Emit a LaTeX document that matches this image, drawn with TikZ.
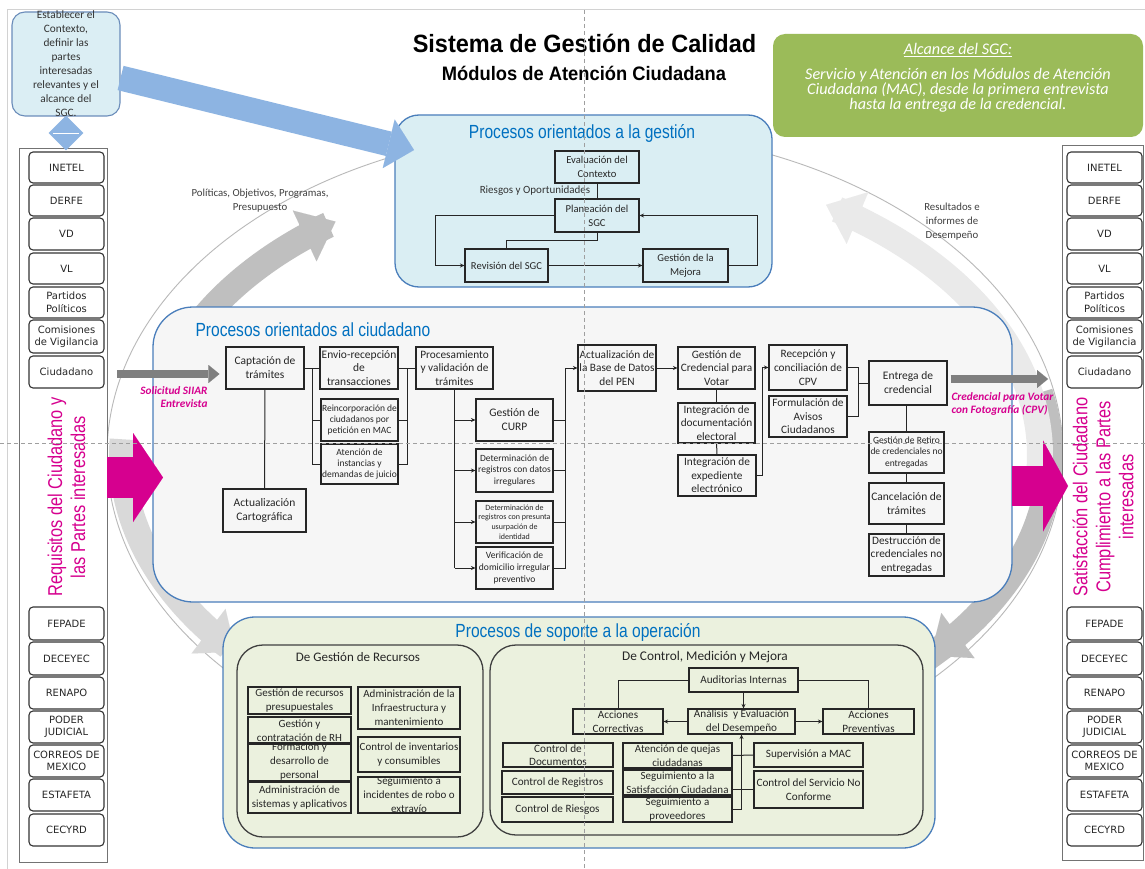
\documentclass[tikz,border=0pt]{standalone}
\usepackage{fontspec}
\setmainfont{Carlito}
\newfontfamily\verd{DejaVu Sans}
\newfontfamily\titfont{Liberation Sans}[FakeStretch=0.94]
\newfontfamily\narrowf{Liberation Sans}[FakeStretch=0.82]
\usetikzlibrary{arrows.meta,shapes.geometric,calc}
\definecolor{ctxfill}{HTML}{DBEEF4}
\definecolor{ctxdraw}{HTML}{6B8DBA}
\definecolor{gestfill}{HTML}{DAEEF3}
\definecolor{regdraw}{HTML}{4A7EBB}
\definecolor{ciudfill}{HTML}{F6F6F6}
\definecolor{sopfill}{HTML}{EBF1DE}
\definecolor{headblue}{HTML}{0070C0}
\definecolor{mag}{HTML}{D6008F}
\definecolor{grn}{HTML}{9BBB59}
\definecolor{blarr}{HTML}{8DB4E2}
\definecolor{garr}{HTML}{7F7F7F}
\definecolor{cA}{HTML}{BFBFBF}
\definecolor{cB}{HTML}{D9D9D9}
\definecolor{cC}{HTML}{EAEAEA}
\newcommand\fs[2]{\fontsize{#1}{#2}\selectfont}
\newcommand\bxn[7][]{\node[bx,minimum width={(#5-#3)*1pt},minimum height={(#6-#4)*1pt},#1] (#2) at ({(#3+#5)/2},{(#4+#6)/2}) {#7};}
\begin{document}
\begin{tikzpicture}[x=1pt,y=-1pt,
  bx/.style={draw=black!85,line width=1.1pt,inner sep=0pt,align=center,font=\fs{11.5}{14},text=black!85},
  ln/.style={draw=black!85,line width=1pt},
  arr/.style={-{Stealth[length=4.5pt,width=4pt]}},
  colbox/.style={draw=black!80,line width=1.1pt,rounded corners=4pt,fill=white,minimum width=75pt,inner sep=0pt,align=center,font=\verd\fs{10}{12.5},text=black!85},
  head/.style={font=\narrowf\fs{19}{22},text=headblue},
  curv/.style={line width=26pt},
  magarr/.style={draw=mag,line width=41pt,-{Triangle[length=30pt,width=89pt,line width=0.01pt]}},
  grarr/.style={draw=garr,line width=8.5pt,-{Triangle[length=11pt,width=18pt,line width=0.01pt]}},
  small/.style={font=\fs{10.8}{14},text=black!75,align=center}]
\useasboundingbox (0,0) rectangle (1145,869);
\fill[white] (0,0) rectangle (1145,869);
% frame
\draw[gray!35,line width=1pt] (7,869) -- (7,10) -- (1145,10);
% big thin ellipse
\draw[gray!55,line width=0.9pt] (585,455) ellipse [x radius=478, y radius=326];
% curved gray arrows
\draw[curv,draw=cA,-{Triangle[length=34pt,width=56pt,line width=0.01pt]}] plot[smooth,domain=198:235,samples=25] ({585+435*cos(\x)},{455+285*sin(\x)});
\draw[curv,draw=cB,-{Triangle[length=34pt,width=56pt,line width=0.01pt]}] plot[smooth,domain=183:139,samples=25] ({585+463*cos(\x)},{455+300*sin(\x)});
\draw[curv,draw=cA,-{Triangle[length=34pt,width=56pt,line width=0.01pt]}] plot[smooth,domain=-12:42,samples=25] ({585+465*cos(\x)},{455+300*sin(\x)});
\draw[curv,draw=cC,-{Triangle[length=34pt,width=56pt,line width=0.01pt]}] plot[smooth,domain=8:-58,samples=25] ({585+455*cos(\x)},{455+295*sin(\x)});
% columns
\bxn[draw=black!55,line width=0.8pt,fill=white]{colL}{19}{148}{107}{862}{}
\bxn[draw=black!55,line width=0.8pt,fill=white]{colR}{1062}{145}{1143}{860}{}
\foreach \lab/\ya/\yb [count=\i] in {INETEL/152/183, DERFE/185/216, VD/218/250, VL/253/284, Partidos\\Políticos/287/318, Comisiones\\de Vigilancia/320/353, Ciudadano/356/388, FEPADE/607/640, DECEYEC/642/675, RENAPO/677/709, PODER\\JUDICIAL/711/743, CORREOS DE\\MEXICO/745/777, ESTAFETA/779/811, CECYRD/814/846}{
  \node[colbox,minimum height={(\yb-\ya)*1pt}] (L\i) at (66.5,{(\ya+\yb)/2}) {\lab};
  \node[colbox,minimum height={(\yb-\ya)*1pt}] (R\i) at (1104.5,{(\ya+\yb)/2}) {\lab};
}
\node[font=\narrowf\fs{20}{23},text=mag,align=center,rotate=90] (reqT) at (66.5,497) {Requisitos del Ciudadano y\\las Partes interesadas};
\node[font=\narrowf\fs{20}{23},text=mag,align=center,rotate=90] (satT) at (1103,497) {Satisfacción del Ciudadano\\Cumplimiento a las Partes\\interesadas};
% regions
\bxn[draw=regdraw,fill=gestfill,rounded corners=24pt,line width=1.3pt]{gest}{395}{115}{772}{287}{}
\bxn[draw=regdraw,fill=ciudfill,rounded corners=40pt,line width=1.3pt]{ciud}{153}{307}{1012}{602}{}
\bxn[draw=regdraw,fill=sopfill,rounded corners=32pt,line width=1.3pt]{sop}{223}{617}{935}{848}{}
\bxn[draw=black!75,fill=sopfill,rounded corners=26pt,line width=1.3pt]{recur}{237}{645}{483}{837}{}
\bxn[draw=black!75,fill=sopfill,rounded corners=26pt,line width=1.3pt]{ctrl}{490}{645}{923}{835}{}
\bxn[draw=none,fill=grn,rounded corners=12pt]{alc}{773}{34}{1143}{137}{}
\bxn[draw=ctxdraw,fill=ctxfill,rounded corners=13pt,line width=1.1pt]{ctx}{12}{12}{120}{116}{}
\node[font=\fs{11.3}{14},text=black!80,align=center] (ctxT) at (ctx.center) {Establecer el\\Contexto,\\definir las\\partes\\interesadas\\relevantes y el\\alcance del\\SGC.};
\node[diamond,aspect=1,fill=blarr,minimum size=35pt,inner sep=0pt] (dia) at (66,133) {};
\draw[white,line width=0.8pt] ($(dia.west)+(5,0)$) -- ($(dia.east)+(-5,0)$);
% titles
\node[font=\titfont\bfseries\fs{25}{28}] (tit1) at (584.5,43) {Sistema de Gestión de Calidad};
\node[font=\titfont\bfseries\fs{19.5}{22}] (tit2) at (584,73) {Módulos de Atención Ciudadana};
\node[text=white,font=\itshape\fs{16.2}{15.5}] (alcT) at (958,50) {\underline{Alcance del SGC:}};
\node[text=white,font=\itshape\fs{16.2}{15.2},align=center] (alcB) at (958,90) {Servicio y Atención en los Módulos de Atención\\Ciudadana (MAC), desde la primera entrevista\\hasta la entrega de la credencial.};
\node[head] (gestT) at (582,133) {Procesos orientados a la gestión};
\node[head,anchor=west] (ciudT) at (192,330) {Procesos orientados al ciudadano};
\node[head] (sopT) at (578,632) {Procesos de soporte a la operación};
\node[small] (polT) at (260,201) {Políticas, Objetivos, Programas,\\Presupuesto};
\node[small] (resT) at (952,222) {Resultados e\\informes de\\Desempeño};
% gestion
\bxn[font=\fs{10.6}{14}]{eval}{555}{151}{639}{183}{Evaluación del\\Contexto}
\bxn[font=\fs{10.6}{14}]{plan}{555}{199}{639}{232}{Planeación del\\SGC}
\bxn[font=\fs{10.6}{14}]{rev}{465}{249}{548}{282}{Revisión del SGC}
\bxn[font=\fs{10.6}{14}]{mej}{643}{249}{728}{282}{Gestión de la\\Mejora}
\node[font=\fs{11}{13},text=black!80] (riesT) at (535,191) {Riesgos y Oportunidades};
\draw[ln] (eval) -- (plan);
\draw[ln,arr] (plan.west) -- ++(-119,0) |- (rev.west);
\draw[ln] (plan.south) -- ++(0,8) -| (rev.north);
\draw[ln,arr] (rev) -- (mej);
\draw[ln,arr] (mej.east) -- ++(29,0) |- (plan.east);
% ciudadano
\bxn{capt}{226}{347}{304}{389}{Captación de\\trámites}
\bxn{cart}{223}{489}{306}{532}{Actualización\\Cartográfica}
\bxn[font=\fs{11.5}{13.8}]{env}{320}{347}{398}{389}{Envio-recepción\\de\\transacciones}
\bxn[font=\fs{9.5}{11.3}]{reinc}{321}{399}{398}{441}{Reincorporación de\\ciudadanos por\\petición en MAC}
\bxn[font=\fs{9.5}{11.3}]{aten}{321}{444}{398}{484}{Atención de\\instancias y\\demandas de juicio}
\bxn[font=\fs{11.3}{13.8}]{proc}{416}{347}{493}{389}{Procesamiento\\y validación de\\trámites}
\bxn{curp}{476}{399}{553}{441}{Gestión de\\CURP}
\bxn[font=\fs{9.5}{11.5}]{dreg}{476}{449}{553}{492}{Determinación de\\registros con datos\\irregulares}
\bxn[font=\fs{8}{9.6}]{dusu}{476}{501}{553}{543}{Determinación de\\registros con presunta\\usurpación de\\identidad}
\bxn[font=\fs{9.6}{12}]{verif}{476}{547}{553}{589}{Verificación de\\domicilio irregular\\preventivo}
\bxn[font=\fs{11.3}{13.8}]{bd}{578}{345}{656}{391}{Actualización de\\la Base de Datos\\del PEN}
\bxn[font=\fs{11.3}{13.8}]{gcred}{678}{347}{755}{389}{Gestión de\\Credencial para\\Votar}
\bxn[font=\fs{11.3}{13.5}]{idoc}{678}{403}{755}{443}{Integración de\\documentación\\electoral}
\bxn[font=\fs{11.3}{13.5}]{iexp}{678}{455}{756}{496}{Integración de\\expediente\\electrónico}
\bxn[font=\fs{11.3}{13.8}]{recep}{769}{345}{847}{390}{Recepción y\\conciliación de\\CPV}
\bxn[font=\fs{11.3}{13.5}]{formu}{769}{396}{847}{437}{Formulación de\\Avisos\\Ciudadanos}
\bxn{entr}{869}{361}{947}{405}{Entrega de\\credencial}
\bxn[font=\fs{9.5}{11.5}]{gret}{869}{432}{944}{473}{Gestión de Retiro\\de credenciales no\\entregadas}
\bxn{canc}{869}{483}{944}{524}{Cancelación de\\trámites}
\bxn[font=\fs{11.3}{13.8}]{destr}{869}{534}{944}{576}{Destrucción de\\credenciales no\\entregadas}
\draw[ln] (capt) -- (cart);
\draw[ln] (capt.east) -- (env.west);
\coordinate (b1) at ($(capt.east)!0.5!(env.west)$);
\draw[ln] (b1) |- (reinc.west);
\draw[ln] (b1) |- (aten.west);
\draw[ln] (env.east) -- (proc.west);
\coordinate (b2) at ($(env.east)!0.5!(proc.west)$);
\draw[ln] (reinc.east) -| (b2);
\draw[ln] (aten.east) -| (b2);
\draw[ln] (proc.south) -- (proc.south |- verif.west);
\foreach \n in {curp,dreg,dusu,verif} \draw[ln,arr] (proc.south |- \n.west) -- (\n.west);
\coordinate (b3) at ($(curp.east)!0.5!(curp.east -| bd.west)$);
\foreach \n in {curp,dreg,dusu,verif} \draw[ln] (\n.east) -| (b3);
\draw[ln,arr] (b3) |- (bd.west);
\draw[ln,arr] (bd.east) -- (gcred.west);
\draw[ln] (gcred) -- (idoc);
\draw[ln] (idoc) -- (iexp);
\draw[ln,arr] (iexp.east) -- ++(6,0) |- (recep.west);
\draw[ln] (recep.east) -- ++(11,0) |- (formu.east);
\path (recep.east) ++(11,0) coordinate (b5);
\draw[ln] (b5 |- entr.west) -- (entr.west);
\draw[ln] (gret.north) -- (gret.north |- entr.south);
\draw[ln] (gret) -- (canc);
\draw[ln] (canc) -- (destr);
% soporte
\node[font=\fs{13}{15},text=black!85] (recurT) at (358,657) {De Gestión de Recursos};
\node[font=\fs{13.3}{15},text=black!85] (ctrlT) at (705,657) {De Control, Medición y Mejora};
\bxn[font=\fs{11}{13.8}]{presu}{248}{687}{351}{714}{Gestión de recursos\\presupuestales}
\bxn[font=\fs{11}{13.8}]{rh}{248}{717}{351}{744}{Gestión y\\contratación de RH}
\bxn[font=\fs{11}{14}]{form}{248}{747}{351}{776}{Formación y\\desarrollo de\\personal}
\bxn[font=\fs{11}{13.8}]{sist}{248}{782}{351}{813}{Administración de\\sistemas y aplicativos}
\bxn[font=\fs{11}{13.8}]{infra}{358}{687}{460}{729}{Administración de la\\Infraestructura y\\mantenimiento}
\bxn[font=\fs{11}{13.8}]{inv}{358}{737}{460}{772}{Control de inventarios\\y consumibles}
\bxn[font=\fs{11}{13.8}]{robo}{358}{777}{460}{813}{Seguimiento a\\incidentes de robo o\\extravío}
\bxn[font=\fs{11.2}{13.5}]{aud}{689}{668}{798}{692}{Auditorias Internas}
\bxn[font=\fs{11.2}{13.5}]{acor}{573}{709}{663}{734}{Acciones\\Correctivas}
\bxn[font=\fs{11.2}{13.5}]{anal}{688}{709}{795}{734}{Análisis \ y Evaluación\\del Desempeño}
\bxn[font=\fs{11.2}{13.5}]{aprev}{823}{709}{914}{734}{Acciones\\Preventivas}
\bxn[font=\fs{11.2}{13.5}]{cdoc}{503}{743}{613}{767}{Control de\\Documentos}
\bxn[font=\fs{11.2}{13.5}]{creg}{502}{771}{613}{794}{Control de Registros}
\bxn[font=\fs{11.2}{13.5}]{crie}{502}{797}{613}{822}{Control de Riesgos}
\bxn[font=\fs{11}{13.5}]{aq}{623}{743}{732}{768}{Atención de quejas\\ciudadanas}
\bxn[font=\fs{11}{13.5}]{sat}{623}{770}{732}{795}{Seguimiento a la\\Satisfacción Ciudadana}
\bxn[font=\fs{11}{13.5}]{prov}{623}{797}{732}{822}{Seguimiento a\\proveedores}
\bxn[font=\fs{11.2}{13.5}]{sup}{754}{743}{863}{767}{Supervisión a MAC}
\bxn[font=\fs{11.2}{13.5}]{csnc}{754}{771}{863}{808}{Control del Servicio No\\Conforme}
\draw[ln] (aud.west) -| (acor.north);
\draw[ln] (aud.east) -| (aprev.north);
\draw[ln,arr] (aud.south) -- (aud.south |- anal.north);
\draw[ln,arr] (anal.west) -- (acor.east);
\draw[ln,arr] (anal.east) -- (aprev.west);
\draw[ln,arr] (prov.east -| anal.south) -- (anal.south);
\draw[ln] (aq.east) -- (sup.west);
\draw[ln] (csnc.west) -- (csnc.west -| sat.east);
\draw[ln] (prov.east) -- (prov.east -| anal.south);
% straight arrows
\coordinate (blueTip) at (414,150);
\draw[draw=blarr,line width=25pt,-{Triangle[length=26pt,width=50pt,line width=0.01pt]}] ($(ctx.east)+(0,14)$) -- (blueTip);
\coordinate (mL0) at (107,477.5);
\coordinate (mL1) at (163,477.5);
\draw[magarr] (mL0) -- (mL1);
\coordinate (mR0) at (1012,486);
\coordinate (mR1) at (1068,486);
\draw[magarr,-{Triangle[length=25pt,width=91pt,line width=0.01pt]},line width=40pt] (mR0) -- (mR1);
\coordinate (solS) at (117,374);
\draw[grarr] (solS) -- ($(capt.west)+(-6,6)$);
\coordinate (credE) at (1048,379);
\draw[grarr] ($(entr.east)+(3,-4)$) -- (credE);
\node[font=\bfseries\itshape\fs{11.3}{13.5},text=mag,align=right,anchor=east] (solL) at (211,397) {Solicitud SIIAR\\Entrevista};
\node[font=\bfseries\itshape\fs{11.3}{13.5},text=mag,align=left,anchor=west] (credL) at (948,404) {Credencial para Votar\\con Fotografía (CPV)};
% dashed cross
\draw[gray!75,dash pattern=on 4pt off 3pt,line width=0.8pt] (0,443) -- (1145,443);
\draw[gray!75,dash pattern=on 4pt off 3pt,line width=0.8pt] (584,10) -- (584,869);
\end{tikzpicture}
\end{document}
